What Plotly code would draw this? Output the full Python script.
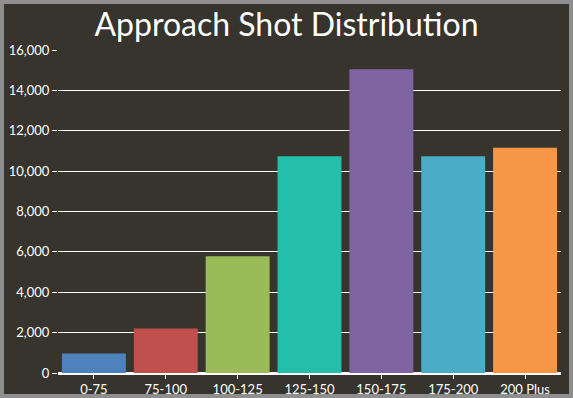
import plotly.graph_objects as go

categories = ["0-75", "75-100", "100-125", "125-150", "150-175", "175-200", "200 Plus"]
shots = [970, 2200, 5780, 10740, 15050, 10740, 11160]
colors = ["#4f81bd", "#c0504d", "#9bbb59", "#23bfaa", "#8064a2", "#4bacc6", "#f79646"]
y_ticks = [0, 2000, 4000, 6000, 8000, 10000, 12000, 14000, 16000]
y_tick_text = ["0", "2,000", "4,000", "6,000", "8,000", "10,000", "12,000", "14,000", "16,000"]

W, H = 573, 398
ml, mr, mt, mb = 58, 12, 50, 25
pw, ph = W - ml - mr, H - mt - mb

fig = go.Figure(go.Bar(x=categories, y=shots, marker=dict(color=colors, line=dict(width=0)),
                       hoverinfo="x+y"))

# frame around the whole picture
inset = 2
fig.add_shape(type="rect", xref="paper", yref="paper",
              x0=(inset - ml) / pw, x1=(W - inset - ml) / pw,
              y0=(inset - mb) / ph, y1=(H - inset - mb) / ph,
              line=dict(color="#8e8e8e", width=4), layer="above")

fig.update_layout(
    width=W, height=H,
    margin=dict(l=ml, r=mr, t=mt, b=mb, pad=0, autoexpand=False),
    paper_bgcolor="#36342d", plot_bgcolor="#36342d",
    bargap=0.11,
    showlegend=False,
    title=dict(text="Approach Shot Distribution", x=0.5, xref="container", xanchor="center",
               y=1 - 25 / H, yref="container", yanchor="middle",
               font=dict(family="Lato, Open Sans, sans-serif", size=32, color="white")),
    font=dict(family="Lato, Open Sans, sans-serif", size=13, color="white"),
    xaxis=dict(showgrid=False, showline=True, linecolor="white", linewidth=1.5,
               ticks="outside", ticklen=4, tickcolor="white", tickwidth=1,
               automargin=False,
               tickfont=dict(size=13, color="white")),
    yaxis=dict(range=[0, 16000], tickvals=y_ticks, ticktext=y_tick_text,
               showgrid=True, gridcolor="white", gridwidth=1,
               zeroline=True, zerolinecolor="white", zerolinewidth=1.5,
               ticks="outside", ticklen=5, tickcolor="white", tickwidth=1,
               automargin=False,
               tickfont=dict(size=13, color="white"), fixedrange=True),
)

fig.write_html("out.html", config={"displayModeBar": False},
               post_script="document.body.style.margin='0';document.body.style.overflow='hidden';")
